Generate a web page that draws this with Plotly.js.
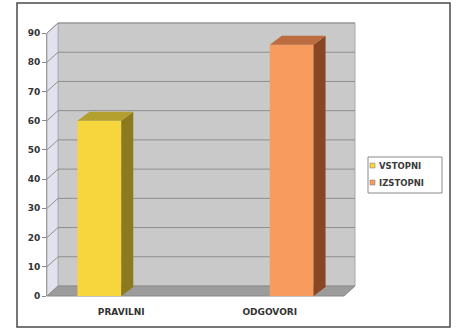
<!DOCTYPE html>
<html><head><meta charset="utf-8">
<script src="https://cdn.plot.ly/plotly-3.0.1.min.js"></script>
<style>html,body{margin:0;padding:0;background:#fff}#chart{width:457px;height:329px}</style>
</head><body><div id="chart"></div>
<script>
// ---- data ----
const categories = ["PRAVILNI", "ODGOVORI"];
const seriesNames = ["VSTOPNI", "IZSTOPNI"];
const vstopni = [60, null];
const izstopni = [null, 86];
const yMax = 90;
const yStep = 10;

// ---- layout geometry ----
const W = 457, H = 329;
const L = 47, R = 344, T = 33, B = 296;
const DX = 11, DY = 10;       // wall depth
const BDX = 12, BDY = 9;      // bar depth
const bargap = 0.41;
const fx = x => (x - L) / (R - L);
const fy = y => (B - y) / (B - T);
const vy = v => B - v / yMax * (B - T);
const P = (x, y) => fx(x).toFixed(5) + "," + fy(y).toFixed(5);
const poly = pts => "M" + pts.map(p => P(p[0], p[1])).join(" L") + " Z";

const colors = ["#f6d63c", "#f89b5e"];
const faceColors = [
  {side:"#8c7a1e", top:"#b3a02e"},
  {side:"#8a4622", top:"#bb6d40"}
];

const shapes = [];
// back wall
shapes.push({type:"path", xref:"paper", yref:"paper", layer:"below",
  path: poly([[L+DX,T-DY],[R+DX,T-DY],[R+DX,B-DY],[L+DX,B-DY]]),
  fillcolor:"#c9c9c9", line:{color:"#a8a8a8", width:1}});
// left side wall
shapes.push({type:"path", xref:"paper", yref:"paper", layer:"below",
  path: poly([[L,T],[L+DX,T-DY],[L+DX,B-DY],[L,B]]),
  fillcolor:"#e2e2ee", line:{color:"#b0b0b8", width:1}});
// gridlines
for (let v = yStep; v <= yMax; v += yStep) {
  const y = vy(v);
  shapes.push({type:"path", xref:"paper", yref:"paper", layer:"below",
    path: "M" + P(L, y) + " L" + P(L+DX, y-DY) + " L" + P(R+DX, y-DY),
    line:{color:"#8e8e8e", width:1}});
}
// floor
shapes.push({type:"path", xref:"paper", yref:"paper", layer:"below",
  path: poly([[L,B],[L+DX,B-DY],[R+DX,B-DY],[R,B]]),
  fillcolor:"#9c9c9c", line:{color:"#8a8a8a", width:1}});

// 3D faces of bars computed from data
const cw = (R - L) / categories.length;
const bw = cw * (1 - bargap) / seriesNames.length;
[vstopni, izstopni].forEach((vals, si) => {
  vals.forEach((v, ci) => {
    if (v == null) return;
    const cx = L + (ci + 0.5) * cw + (si - (seriesNames.length - 1) / 2) * bw;
    const xl = cx - bw / 2, xr = cx + bw / 2, yt = vy(v), yb = B;
    shapes.push({type:"path", xref:"paper", yref:"paper", layer:"above",
      path: poly([[xr,yt],[xr+BDX,yt-BDY],[xr+BDX,yb-BDY],[xr,yb]]),
      fillcolor: faceColors[si].side, line:{width:0}});
    shapes.push({type:"path", xref:"paper", yref:"paper", layer:"above",
      path: poly([[xl,yt],[xl+BDX,yt-BDY],[xr+BDX,yt-BDY],[xr,yt]]),
      fillcolor: faceColors[si].top, line:{width:0}});
  });
});

const font = {family:"'DejaVu Sans', Arial, sans-serif", size:9, color:"#333", weight:"bold"};

// legend (box, swatches, labels)
const LG = {x0:368, x1:442, y0:157, y1:193, rows:[166, 183]};
shapes.push({type:"path", xref:"paper", yref:"paper", layer:"above",
  path: poly([[LG.x0,LG.y0],[LG.x1,LG.y0],[LG.x1,LG.y1],[LG.x0,LG.y1]]),
  fillcolor:"#ffffff", line:{color:"#8a8a8a", width:1}});
const annotations = [];
seriesNames.forEach((name, i) => {
  const ry = LG.rows[i];
  shapes.push({type:"path", xref:"paper", yref:"paper", layer:"above",
    path: poly([[370,ry-3],[375,ry-3],[375,ry+2],[370,ry+2]]),
    fillcolor: colors[i], line:{color:"#777", width:0.5}});
  annotations.push({xref:"paper", yref:"paper", x: fx(377), y: fy(ry),
    xanchor:"left", yanchor:"middle", showarrow:false, text:name,
    font:{family:font.family, size:8.5, color:"#3a3a3a", weight:"bold"}});
});

// outer frame
shapes.push({type:"path", xref:"paper", yref:"paper", layer:"above",
  path: poly([[17,3],[450,3],[450,327],[17,327]]),
  line:{color:"#4a4a4a", width:1.5}});

const traces = [
  {type:"bar", name:seriesNames[0], x:categories, y:vstopni,
   marker:{color:colors[0], line:{width:0}}, hoverinfo:"skip"},
  {type:"bar", name:seriesNames[1], x:categories, y:izstopni,
   marker:{color:colors[1], line:{width:0}}, hoverinfo:"skip"}
];

const layout = {
  width: W, height: H,
  margin: {l:L, r:W-R, t:T, b:H-B, pad:0},
  paper_bgcolor:"#ffffff", plot_bgcolor:"rgba(0,0,0,0)",
  barmode:"group", bargap: bargap, bargroupgap: 0,
  showlegend: false,
  font: font,
  xaxis: {type:"category", range:[-0.5, categories.length - 0.5], showgrid:false,
    zeroline:false, showline:false, ticks:"", ticklabelstandoff:9,
    tickfont: font, fixedrange:true},
  yaxis: {range:[0, yMax], dtick:yStep, showgrid:false, zeroline:false,
    showline:true, linecolor:"#a0a0a0", linewidth:1,
    ticks:"outside", ticklen:4, tickcolor:"#888",
    tickfont: font, fixedrange:true},
  shapes: shapes,
  annotations: annotations
};

Plotly.newPlot("chart", traces, layout, {displayModeBar:false, staticPlot:true});
</script></body></html>
